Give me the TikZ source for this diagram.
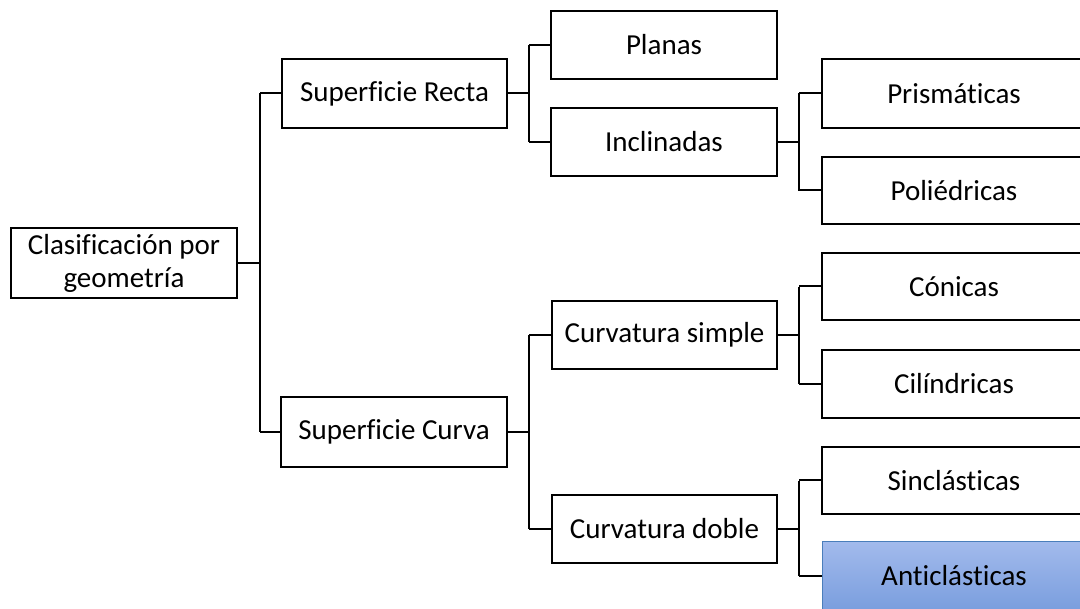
\documentclass[tikz,border=0pt]{standalone}
\usepackage{fontspec}
\setmainfont{Carlito}[Ligatures={NoCommon}]
\usetikzlibrary{calc}
\definecolor{linkline}{RGB}{0,0,0}
\definecolor{hiTop}{RGB}{162,186,236}
\definecolor{hiBot}{RGB}{122,158,222}
\definecolor{hiEdge}{RGB}{74,126,187}
\begin{document}
\begin{tikzpicture}[x=1pt,y=-1pt,
  box/.style={draw=black,line width=2pt,fill=white,rectangle,inner sep=0pt,
    minimum height=68pt,align=center,font=\fontsize{29}{33}\selectfont},
  mid/.style={box,minimum width=226pt},
  leaf/.style={box,minimum width=264pt},
  hilite/.style={leaf,draw=hiEdge,line width=1pt,top color=hiTop,bottom color=hiBot},
  link/.style={draw=linkline,line width=2pt}]
\useasboundingbox (0,0) rectangle (1080,609);
\clip (0,0) rectangle (1080,609);
\fill[white] (0,0) rectangle (1080,609);

% bus positions
\coordinate (b1) at (260,0);
\coordinate (b2) at (529,0);
\coordinate (b3) at (799,0);

% vertical buses
\draw[link] (b1 |- 0,93) -- (b1 |- 0,432);
\draw[link] (b2 |- 0,45) -- (b2 |- 0,142);
\draw[link] (b2 |- 0,335) -- (b2 |- 0,529);
\draw[link] (b3 |- 0,93) -- (b3 |- 0,191);
\draw[link] (b3 |- 0,287) -- (b3 |- 0,384);
\draw[link] (b3 |- 0,481) -- (b3 |- 0,576);

% nodes
\node[mid,minimum height=70pt] (root) at (124,263) {Clasificación por\\geometría};
\node[mid,minimum width=225pt,minimum height=69pt] (sr) at (394.5,93.5) {Superficie Recta};
\node[mid,minimum height=70pt] (sc) at (394,432) {Superficie Curva};
\node[mid] (planas) at (664,45) {Planas};
\node[mid] (incl) at (664,142) {Inclinadas};
\node[mid,minimum width=225pt] (csim) at (664.5,335) {Curvatura simple};
\node[mid,minimum width=225pt] (cdob) at (664.5,529) {Curvatura doble};
\node[leaf,minimum height=69pt] (prism) at (954,93.5) {Prismáticas};
\node[leaf,minimum height=67pt] (poli) at (954,190.5) {Poliédricas};
\node[leaf,minimum height=67pt] (conic) at (954,286.5) {Cónicas};
\node[leaf] (cilin) at (954,384) {Cilíndricas};
\node[leaf,minimum height=67pt] (sincl) at (954,480.5) {Sinclásticas};
\node[hilite] (anti) at (954,576) {Anticlásticas};

% elbows from each parent to its children
\draw[link] (root.east) -- (root.east -| b1);
\draw[link] (sr.west) -- (sr.west -| b1);
\draw[link] (sc.west) -- (sc.west -| b1);
\draw[link] (sr.east) -- (sr.east -| b2);
\draw[link] (sc.east) -- (sc.east -| b2);
\draw[link] (planas.west) -- (planas.west -| b2);
\draw[link] (incl.west) -- (incl.west -| b2);
\draw[link] (csim.west) -- (csim.west -| b2);
\draw[link] (cdob.west) -- (cdob.west -| b2);
\draw[link] (incl.east) -- (incl.east -| b3);
\draw[link] (csim.east) -- (csim.east -| b3);
\draw[link] (cdob.east) -- (cdob.east -| b3);
\draw[link] (prism.west) -- (prism.west -| b3);
\draw[link] (poli.west) -- (poli.west -| b3);
\draw[link] (conic.west) -- (conic.west -| b3);
\draw[link] (cilin.west) -- (cilin.west -| b3);
\draw[link] (sincl.west) -- (sincl.west -| b3);
\draw[link] (anti.west) -- (anti.west -| b3);
\end{tikzpicture}
\end{document}
